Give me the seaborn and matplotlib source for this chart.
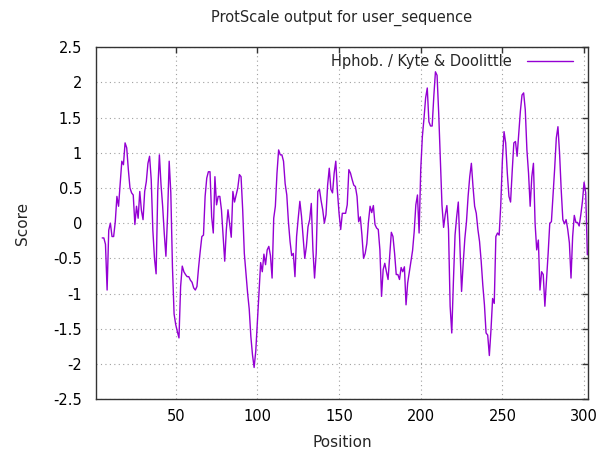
import matplotlib
matplotlib.use("Agg")
import matplotlib.pyplot as plt
import matplotlib.ticker as ticker
import numpy as np
import pandas as pd
import seaborn as sns

# ProtScale output, window of 9 -> first value at position 5
start_pos = 5
scores = [
    -0.21, -0.21, -0.30, -0.95, -0.10, 0.00, -0.19, -0.19, 0.02, 0.38,      # 5-14
    0.24, 0.57, 0.88, 0.83, 1.14, 1.07, 0.76, 0.50, 0.43, 0.40,            # 15-24
    -0.02, 0.24, 0.07, 0.45, 0.18, 0.05, 0.45, 0.59, 0.85, 0.95,           # 25-34
    0.62, -0.10, -0.50, -0.72, 0.45, 0.97, 0.55, 0.24, -0.15, -0.47,       # 35-44
    0.10, 0.88, 0.43, -0.62, -1.29, -1.44, -1.54, -1.63, -0.90, -0.61,     # 45-54
    -0.69, -0.73, -0.76, -0.76, -0.81, -0.84, -0.92, -0.95, -0.90, -0.63,  # 55-64
    -0.40, -0.19, -0.17, 0.38, 0.64, 0.73, 0.73, 0.09, -0.14, 0.66,        # 65-74
    0.26, 0.38, 0.38, 0.19, -0.17, -0.54, -0.09, 0.19, 0.00, -0.20,        # 75-84
    0.45, 0.30, 0.40, 0.50, 0.69, 0.66, 0.19, -0.43, -0.71, -0.99,         # 85-94
    -1.22, -1.61, -1.87, -2.05, -1.82, -1.40, -0.97, -0.56, -0.69, -0.44,  # 95-104
    -0.59, -0.38, -0.33, -0.46, -0.78, 0.07, 0.24, 0.71, 1.04, 0.97,       # 105-114
    0.97, 0.88, 0.56, 0.40, 0.02, -0.26, -0.46, -0.43, -0.76, -0.19,       # 115-124
    0.07, 0.31, 0.10, -0.20, -0.50, -0.33, -0.05, 0.05, 0.28, -0.38,       # 125-134
    -0.78, -0.43, 0.45, 0.48, 0.32, 0.19, 0.00, 0.12, 0.54, 0.78,          # 135-144
    0.48, 0.43, 0.71, 0.88, 0.45, 0.14, -0.09, 0.14, 0.14, 0.14,           # 145-154
    0.26, 0.76, 0.71, 0.62, 0.54, 0.52, 0.38, 0.02, 0.09, -0.17,           # 155-164
    -0.50, -0.43, -0.29, 0.02, 0.24, 0.15, 0.25, -0.02, -0.07, -0.09,      # 165-174
    -0.38, -1.04, -0.66, -0.57, -0.69, -0.80, -0.47, -0.13, -0.19, -0.43,  # 175-184
    -0.73, -0.73, -0.80, -0.63, -0.69, -0.62, -1.16, -0.85, -0.70, -0.54,  # 185-194
    -0.39, -0.12, 0.26, 0.40, -0.14, 0.76, 1.23, 1.49, 1.78, 1.92,         # 195-204
    1.44, 1.38, 1.38, 1.80, 2.15, 2.10, 1.56, 0.90, 0.26, -0.06,           # 205-214
    0.12, 0.25, -0.09, -1.18, -1.56, -0.83, -0.17, 0.09, 0.30, -0.33,      # 215-224
    -0.97, -0.57, -0.22, 0.02, 0.38, 0.66, 0.85, 0.52, 0.24, 0.14,         # 225-234
    -0.09, -0.26, -0.54, -0.88, -1.16, -1.56, -1.59, -1.88, -1.52, -1.07,  # 235-244
    -1.14, -0.19, -0.14, -0.17, 0.26, 0.90, 1.30, 1.14, 0.71, 0.38,        # 245-254
    0.30, 0.74, 1.14, 1.16, 0.95, 1.28, 1.59, 1.82, 1.85, 1.61,            # 255-264
    1.04, 0.71, 0.24, 0.66, 0.85, 0.00, -0.38, -0.24, -0.95, -0.69,        # 265-274
    -0.73, -1.18, -0.80, -0.43, 0.00, 0.02, 0.40, 0.78, 1.21, 1.37,        # 275-284
    0.99, 0.47, 0.05, -0.01, 0.05, -0.09, -0.28, -0.78, -0.19, 0.11,       # 285-294
    0.01, 0.01, -0.04, 0.12, 0.31, 0.58, 0.43, -0.45,                      # 295-302
]
positions = list(range(start_pos, start_pos + len(scores)))
y_ticks = [-2.5, -2, -1.5, -1, -0.5, 0, 0.5, 1, 1.5, 2, 2.5]
x_ticks = [50, 100, 150, 200, 250, 300]

df = pd.DataFrame({"Position": positions, "Score": scores})

sns.set_style("white")
plt.rcParams["font.family"] = ["DejaVu Sans"]

fig, ax = plt.subplots(figsize=(6.0, 4.49), dpi=100)
fig.subplots_adjust(left=0.16, right=0.98, top=0.895, bottom=0.111)

sns.lineplot(data=df, x="Position", y="Score", ax=ax, color="#9400D3",
             linewidth=1.0, label="Hphob. / Kyte & Doolittle")

ax.set_xlim(1.2, 302.4)
ax.set_ylim(-2.5, 2.5)
ax.set_xticks(x_ticks)
ax.set_yticks(y_ticks)
ax.yaxis.set_major_formatter(ticker.FuncFormatter(lambda v, p: "%g" % v))
ax.grid(True, linestyle=(0, (1, 3)), color="#a0a0a0", linewidth=0.8)
ax.tick_params(direction="in", length=4, width=1, colors="#333333",
               labelcolor="black", labelsize=10.5, top=True, right=True)
ax.tick_params(axis="y", pad=10)
ax.tick_params(axis="x", pad=7)
for s in ax.spines.values():
    s.set_color("#333333")
    s.set_linewidth(1.0)

ax.set_xlabel("Position", fontsize=11, labelpad=8)
ax.set_ylabel("Score", fontsize=11, labelpad=17)
ax.set_title("ProtScale output for user_sequence", fontsize=10.5, pad=18)

leg = ax.legend(loc="upper right", frameon=False, markerfirst=False,
                fontsize=10.5, handlelength=3.2, borderaxespad=0.1,
                handletextpad=1.0, bbox_to_anchor=(0.985, 1.0))

fig.savefig("out.png", dpi=100)
